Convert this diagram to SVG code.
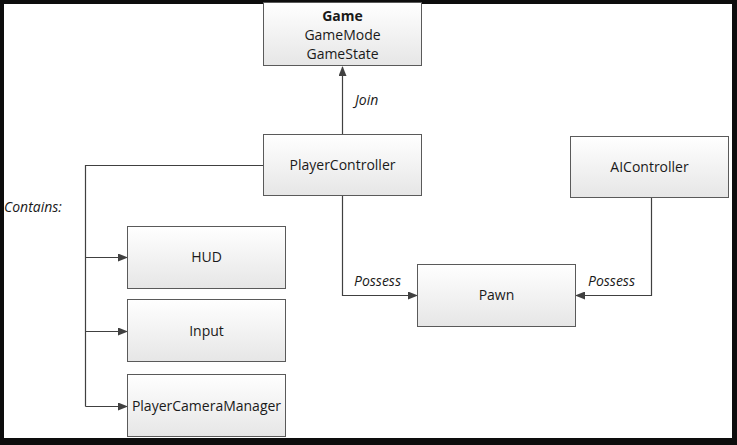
<svg xmlns="http://www.w3.org/2000/svg" width="737" height="445" viewBox="0 0 737 445">
<defs>
<linearGradient id="g" x1="0" y1="0" x2="0" y2="1">
<stop offset="0" stop-color="#ffffff"/>
<stop offset="1" stop-color="#e6e6e6"/>
</linearGradient>
<marker id="ah" markerWidth="10" markerHeight="8" refX="9" refY="4" orient="auto" markerUnits="userSpaceOnUse">
<path d="M0,0 L10,4 L0,8 Z" fill="#404040"/>
</marker>
<style>
.box{fill:url(#g);stroke:#5a5a5a;stroke-width:1}
.t{font-family:"Open Sans","Liberation Sans",sans-serif;font-size:14px;fill:#1a1a1a;text-anchor:middle}
.b{font-weight:bold}
.lbl{font-family:"Open Sans","Liberation Sans",sans-serif;font-size:14px;font-style:italic;fill:#1a1a1a}
.c{fill:none;stroke:#404040;stroke-width:1.2}
</style>
</defs>
<rect x="0" y="0" width="737" height="445" fill="#0d0d0d"/>
<rect x="4" y="4" width="728" height="434" fill="#ffffff"/>
<g id="connectors">
<path class="c" d="M342.5,134 V67" marker-end="url(#ah)"/>
<path class="c" d="M263,165.5 H85.5 V406.5"/>
<path class="c" d="M85.5,257.5 H127" marker-end="url(#ah)"/>
<path class="c" d="M85.5,331.5 H127" marker-end="url(#ah)"/>
<path class="c" d="M85.5,406.5 H127" marker-end="url(#ah)"/>
<path class="c" d="M342.5,196 V295.5 H417" marker-end="url(#ah)"/>
<path class="c" d="M651.5,198 V295.5 H576" marker-end="url(#ah)"/>
<text class="lbl" x="355" y="105">Join</text>
<text class="lbl" x="4" y="212">Contains:</text>
<text class="lbl" x="354" y="286">Possess</text>
<text class="lbl" x="588" y="286">Possess</text>
</g>
<g id="game">
<rect class="box" x="263.5" y="2.5" width="158" height="63"/>
<text class="t b" x="342.5" y="21">Game</text>
<text class="t" x="342.5" y="40">GameMode</text>
<text class="t" x="342.5" y="59">GameState</text>
</g>
<g id="playercontroller">
<rect class="box" x="263.5" y="134.5" width="158" height="61"/>
<text class="t" x="342.5" y="170">PlayerController</text>
</g>
<g id="aicontroller">
<rect class="box" x="570.5" y="136.5" width="158" height="61"/>
<text class="t" x="649.5" y="172">AIController</text>
</g>
<g id="pawn">
<rect class="box" x="417.5" y="264.5" width="158" height="62"/>
<text class="t" x="496.5" y="300">Pawn</text>
</g>
<g id="hud">
<rect class="box" x="127.5" y="226.5" width="158" height="62"/>
<text class="t" x="206.5" y="262">HUD</text>
</g>
<g id="input">
<rect class="box" x="127.5" y="299.5" width="158" height="62"/>
<text class="t" x="206.5" y="336">Input</text>
</g>
<g id="playercameramanager">
<rect class="box" x="127.5" y="374.5" width="158" height="62"/>
<text class="t" x="206.5" y="411">PlayerCameraManager</text>
</g>
</svg>
